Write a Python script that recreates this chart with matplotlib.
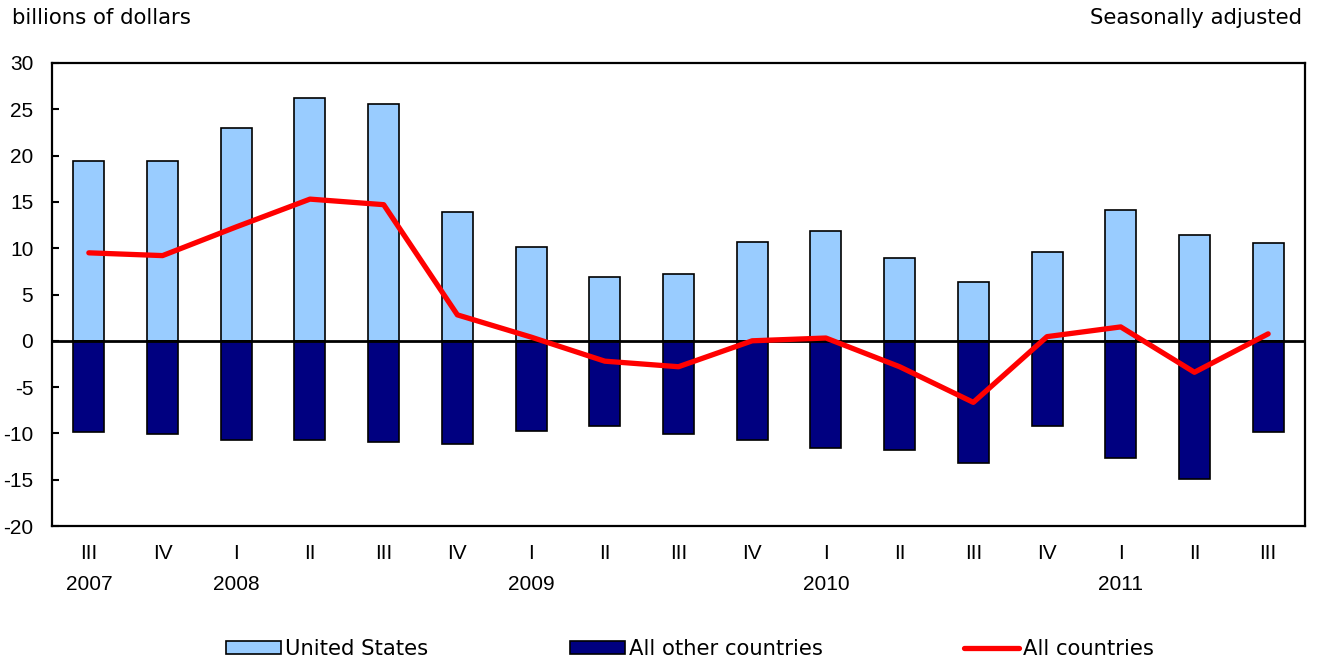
import matplotlib
matplotlib.use('Agg')
import matplotlib.pyplot as plt
import matplotlib.transforms as mtransforms
import numpy as np

plt.rcParams['font.family'] = ['Liberation Sans', 'DejaVu Sans']
plt.rcParams['axes.unicode_minus'] = False

# quarterly data, billions of dollars, seasonally adjusted
quarters = ['III', 'IV', 'I', 'II', 'III', 'IV', 'I', 'II', 'III',
            'IV', 'I', 'II', 'III', 'IV', 'I', 'II', 'III']
years = ['2007', '2008', '2009', '2010', '2011']
year_pos = [0, 2, 6, 10, 14]  # index of the quarter under which the year sits

united_states = [19.4, 19.4, 23.0, 26.2, 25.6, 13.9, 10.1, 6.9, 7.2,
                 10.7, 11.9, 8.9, 6.4, 9.6, 14.1, 11.4, 10.6]
other_countries = [-9.8, -10.1, -10.7, -10.7, -10.9, -11.1, -9.7, -9.2, -10.1,
                   -10.7, -11.6, -11.8, -13.2, -9.2, -12.7, -14.9, -9.8]
all_countries = [9.5, 9.2, 12.3, 15.3, 14.7, 2.8, 0.4, -2.2, -2.8,
                 0.0, 0.3, -2.8, -6.65, 0.45, 1.5, -3.4, 0.75]

fig = plt.figure(figsize=(13.28, 6.62), dpi=100)
ax = fig.add_axes([52/1328, 1-526/662, (1305-52)/1328, (526-63)/662])

x = np.arange(len(quarters))
b1 = ax.bar(x, united_states, width=0.42, color='#99CCFF', edgecolor='black',
            linewidth=1.2, zorder=2)
b2 = ax.bar(x, other_countries, width=0.42, color='#000080', edgecolor='black',
            linewidth=1.2, zorder=2)
ax.axhline(0, color='black', linewidth=2, zorder=3)
ln, = ax.plot(x, all_countries, color='#FF0000', linewidth=3.8,
              zorder=4, solid_capstyle='round')

ax.set_xlim(-0.5, len(quarters) - 0.5)
ax.set_ylim(-20, 30)
ax.set_yticks(range(-20, 31, 5))
ax.set_xticks(x)
ax.set_xticklabels(quarters)
ax.tick_params(axis='y', direction='in', length=5, width=1.5, pad=13.5,
               labelsize=15)
ax.tick_params(axis='x', length=0, pad=13, labelsize=15)
for s in ax.spines.values():
    s.set_linewidth(1.6)

# year labels under the quarter labels
trans = mtransforms.blended_transform_factory(ax.transData, fig.transFigure)
for yr, p in zip(years, year_pos):
    ax.text(p, 1-585/662, yr, transform=trans, ha='center', va='center',
            fontsize=15)

fig.text(12/1328, 1-18/662, 'billions of dollars', ha='left', va='center',
         fontfamily='DejaVu Sans', fontsize=15.3)
fig.text(1302/1328, 1-18/662, 'Seasonally adjusted', ha='right', va='center',
         fontfamily='DejaVu Sans', fontsize=15.3)

fig.legend([b1, b2, ln], ['United States', 'All other countries', 'All countries'],
           loc='center', bbox_to_anchor=(690/1328, 1-649/662), ncol=3,
           frameon=False, prop={'family': 'DejaVu Sans', 'size': 15.2},
           handlelength=2.6, handleheight=0.6, handletextpad=0.2,
           columnspacing=6.7, borderaxespad=0)

fig.savefig('out.png', dpi=100)
